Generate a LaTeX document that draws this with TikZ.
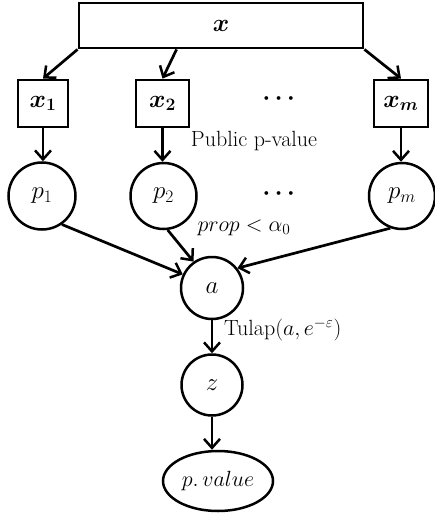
\RequirePackage{fix-cm}
\documentclass[tikz,border=0pt]{standalone}
\usepackage{amsmath,bm}
\usetikzlibrary{arrows.meta,shapes.geometric,calc}
\tikzset{
  every node/.style={font=\fontsize{22}{26}\selectfont},
  big/.style={font=\fontsize{25}{30}\selectfont},
  blk/.style={big,draw,line width=2.8pt,rectangle,inner sep=0pt},
  var/.style={big,draw,line width=2.5pt,circle,inner sep=0pt,minimum size=66pt},
  link/.style={line width=2.7pt,-{Straight Barb[length=9pt,width=16pt,line width=2.5pt]}},
  lab/.style={inner sep=0pt}
}
\begin{document}
\begin{tikzpicture}[x=1pt,y=-1pt]
\useasboundingbox (0,0) rectangle (435,516);

% data blocks
\node[blk,minimum width=284pt,minimum height=45pt] (data) at (221,25.5) {$\bm{x}$};
\node[blk,minimum width=50pt,minimum height=47pt] (x1) at (43,103.5) {$\bm{x_1}$};
\node[blk,minimum width=53pt,minimum height=47pt] (x2) at (162.5,103.5) {$\bm{x_2}$};
\node[blk,minimum width=54pt,minimum height=47pt] (xm) at (401,103.5) {$\bm{x_m}$};
\node[lab,font=\fontsize{24}{28}\selectfont] (d1) at (281,99) {$\bm{\cdots}$};
\node[lab] (pub) at (254,141) {Public p-value};

% p-values
\node[var,minimum size=67pt] (p1) at (42,196) {$p_1$};
\node[var] (p2) at (163.5,196) {$p_2$};
\node[var] (pm) at (402,196) {$p_m$};
\node[lab,font=\fontsize{24}{28}\selectfont] (d2) at (281,194) {$\bm{\cdots}$};
\node[lab] (prop) at (244,228) {$prop<\alpha_0$};

% aggregation and release
\node[var,minimum size=62pt] (agg) at (212,288) {$a$};
\node[lab,anchor=west] (tul) at (224,330) {Tulap$(a,e^{-\varepsilon})$};
\node[var,minimum size=61pt] (zz) at (212,385) {$z$};
\node[draw,line width=2.5pt,ellipse,inner sep=0pt,minimum width=110pt,minimum height=60pt] (pv) at (218,481) {$p.\,value$};

% connectors
\coordinate (xs2) at ($(data.south west)!0.345!(data.south east)$);
\draw[link] (data.south west) -- (x1.north);
\draw[link] (xs2) -- (x2.north);
\draw[link] (data.south east) -- (xm.north);
\draw[link] (x1.south) -- (x1.south |- p1.north);
\draw[link] (x2.south) -- (x2.south |- p2.north);
\draw[link] (xm.south) -- (xm.south |- pm.north);
\draw[link] (p1.-55) -- (agg.155);
\draw[link] (p2.-83) -- (agg.125);
\draw[link] (pm.-110) -- (agg.38);
\draw[link] (agg.south) -- (zz.north);
\draw[link] (zz.south) -- (zz.south |- pv.north);
\end{tikzpicture}
\end{document}
